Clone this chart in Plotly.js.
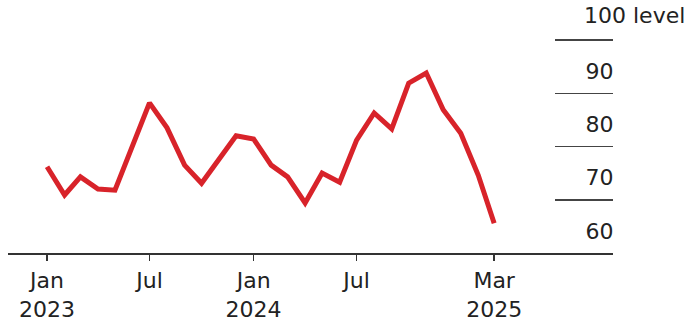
<!DOCTYPE html>
<html><head><meta charset="utf-8">
<script src="https://cdn.plot.ly/plotly-3.0.1.min.js"></script>
<style>html,body{margin:0;padding:0;background:#fff;}#chart{width:688px;height:321px;}</style>
</head><body><div id="chart"></div>
<script>
const months = ['2023-01-01','2023-02-01','2023-03-01','2023-04-01','2023-05-01','2023-06-01','2023-07-01','2023-08-01','2023-09-01','2023-10-01','2023-11-01','2023-12-01',
'2024-01-01','2024-02-01','2024-03-01','2024-04-01','2024-05-01','2024-06-01','2024-07-01','2024-08-01','2024-09-01','2024-10-01','2024-11-01','2024-12-01',
'2025-01-01','2025-02-01','2025-03-01'];
const values = [76.2,70.9,74.3,72.0,71.8,79.9,88.2,83.5,76.5,73.1,77.5,82.0,
81.4,76.5,74.3,69.4,75.0,73.3,81.2,86.3,83.3,91.9,93.8,86.9,
82.5,74.6,65.6];
const xTickVals = ['2023-01-01','2023-07-01','2024-01-01','2024-07-01','2025-03-01'];
const xTickText = ['Jan<br>2023','Jul','Jan<br>2024','Jul','Mar<br>2025'];
const yTickVals = [60,70,80,90,100];
const yTickText = ['60','70','80','90',' '];
const unitLabel = '100 level';

const font = {family:'DejaVu Sans, Liberation Sans, sans-serif', size:22, color:'#222'};
Plotly.newPlot('chart', [{
  x: months, y: values, type:'scatter', mode:'lines',
  line:{color:'#d8232a', width:5}
}], {
  width:688, height:321,
  margin:{l:8, r:75, t:3, b:68},
  paper_bgcolor:'#fff', plot_bgcolor:'#fff',
  showlegend:false,
  font: font,
  xaxis:{type:'date', range:['2022-10-24','2025-09-27'], tickvals:xTickVals, ticktext:xTickText,
    ticks:'outside', ticklen:6, tickwidth:1.5, tickcolor:'#333', ticklabelstandoff:1,
    showline:true, linecolor:'#333', linewidth:1.5, showgrid:false, zeroline:false, fixedrange:true,
    tickfont:font},
  yaxis:{range:[60,106.95], side:'right', tickvals:yTickVals, ticktext:yTickText,
    ticks:'inside', ticklen:58, tickwidth:1.5, tickcolor:'#444',
    ticklabelposition:'inside', ticklabelshift:-22, ticklabelstandoff:-57,
    showline:false, showgrid:false, zeroline:false, tickfont:font},
  annotations:[{xref:'paper', yref:'y', x:1.122, y:100, yshift:25, xanchor:'right', yanchor:'middle',
    text:unitLabel, showarrow:false, font:font}]
}, {staticPlot:true});
</script></body></html>
